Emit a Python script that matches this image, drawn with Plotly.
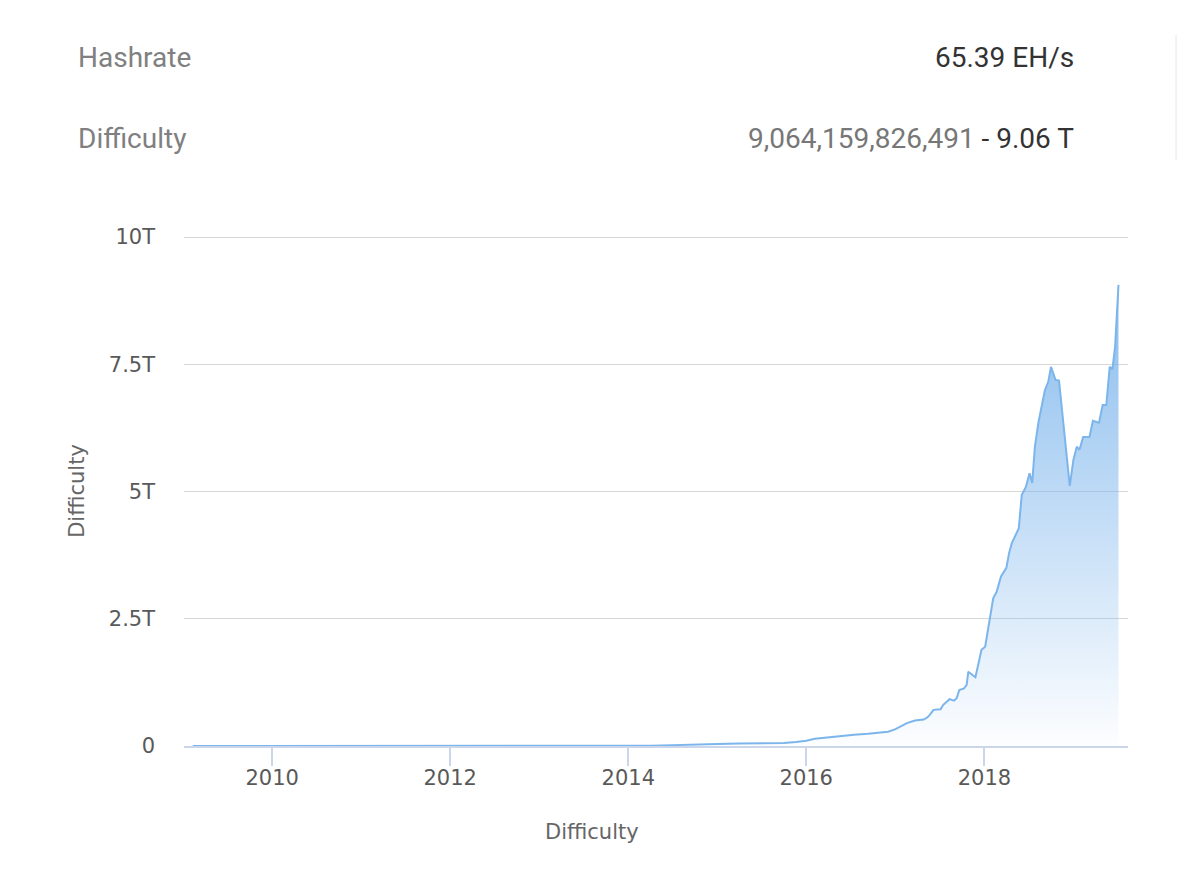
import plotly.graph_objects as go

# bitcoin network difficulty, values in T (10^12)
dates = [
    "2009-02-09", "2010-07-01", "2011-06-01", "2012-06-01", "2013-06-01",
    "2013-12-20", "2014-04-01", "2014-07-01", "2014-10-01", "2015-01-01",
    "2015-04-01", "2015-07-01", "2015-10-01", "2015-11-20", "2016-01-01",
    "2016-02-05", "2016-03-15", "2016-05-25", "2016-07-15", "2016-09-10",
    "2016-10-30", "2016-12-02", "2017-01-01", "2017-01-30", "2017-02-17",
    "2017-03-22", "2017-04-27", "2017-05-11", "2017-05-22", "2017-06-06",
    "2017-07-05", "2017-07-16", "2017-08-11", "2017-08-29", "2017-09-09",
    "2017-09-20", "2017-10-09", "2017-10-20", "2017-10-27", "2017-11-25",
    "2017-12-20", "2018-01-04", "2018-01-26", "2018-02-06", "2018-02-20",
    "2018-03-10", "2018-04-01", "2018-04-12", "2018-04-23", "2018-05-22",
    "2018-06-03", "2018-06-20", "2018-07-05", "2018-07-16", "2018-07-27",
    "2018-08-11", "2018-09-06", "2018-09-20", "2018-10-01", "2018-10-20",
    "2018-11-03", "2018-11-14", "2018-11-28", "2018-12-17", "2019-01-01",
    "2019-01-15", "2019-01-26", "2019-02-10", "2019-03-08", "2019-03-22",
    "2019-04-16", "2019-05-01", "2019-05-16", "2019-05-30", "2019-06-10",
    "2019-06-21", "2019-07-05",
]
difficulty = [
    0.0, 0.0, 0.000001, 0.0000017, 0.000015,
    0.0011, 0.006, 0.017, 0.035, 0.040,
    0.047, 0.049, 0.06, 0.08, 0.103,
    0.144, 0.165, 0.19, 0.22, 0.24,
    0.26, 0.28, 0.33, 0.41, 0.45,
    0.50, 0.52, 0.56, 0.61, 0.71,
    0.72, 0.81, 0.92, 0.89, 0.94,
    1.10, 1.13, 1.20, 1.46, 1.35,
    1.89, 1.95, 2.61, 2.90, 3.03,
    3.33, 3.50, 3.79, 3.98, 4.28,
    4.93, 5.09, 5.36, 5.17, 5.88,
    6.37, 6.99, 7.16, 7.45, 7.19,
    7.18, 6.67, 5.88, 5.11, 5.62,
    5.88, 5.82, 6.07, 6.07, 6.39,
    6.35, 6.70, 6.70, 7.45, 7.40,
    7.84, 9.06,
]
y_ticks = [0, 2.5, 5, 7.5, 10]
y_labels = ["0", "2.5T", "5T", "7.5T", "10T"]

label_font = dict(family="DejaVu Sans", size=21, color="#595959")
title_font = dict(family="DejaVu Sans", size=21, color="#666666")

trace = go.Scatter(
    x=dates,
    y=difficulty,
    mode="lines",
    line=dict(color="#7cb5ec", width=2),
    fill="tozeroy",
    fillgradient=dict(
        type="vertical",
        colorscale=[[0, "rgba(124,181,236,0.02)"], [1, "rgba(124,181,236,0.9)"]],
    ),
    hoverinfo="x+y",
)

fig = go.Figure([trace])

fig.update_layout(
    width=1180,
    height=896,
    margin=dict(l=184, r=52, t=236, b=150),
    paper_bgcolor="white",
    plot_bgcolor="white",
    showlegend=False,
    font=label_font,
)

fig.update_xaxes(
    range=["2009-01-04", "2019-08-13"],
    dtick="M24",
    tick0="2010-01-01",
    tickformat="%Y",
    showgrid=False,
    showline=True,
    linecolor="#ccd6eb",
    linewidth=2,
    ticks="outside",
    ticklen=18,
    tickwidth=2,
    tickcolor="#ccd6eb",
    tickfont=label_font,
    ticklabelstandoff=-6,
    zeroline=False,
)

fig.update_yaxes(
    range=[0, 10.02],
    tickvals=y_ticks,
    ticktext=y_labels,
    showgrid=True,
    gridcolor="#d6d6d6",
    gridwidth=1,
    showline=False,
    zeroline=False,
    ticks="",
    ticklabelstandoff=28,
    tickfont=label_font,
    title=dict(text="Difficulty", font=title_font, standoff=18),
)


def px_x(px):
    return (px - 184) / 944


def px_y(py):
    return (746 - py) / 510


# x axis title sits centred on the whole chart, not on the plot area
fig.add_annotation(x=px_x(592), y=px_y(832), xref="paper", yref="paper", text="Difficulty",
                   showarrow=False, xanchor="center", yanchor="middle", font=title_font)

head_font = dict(family="Roboto", size=28)
fig.add_annotation(x=px_x(76), y=px_y(58), xref="paper", yref="paper", text="Hashrate",
                   showarrow=False, xanchor="left", yanchor="middle", font=dict(head_font, color="#808080"))
fig.add_annotation(x=px_x(1076), y=px_y(58), xref="paper", yref="paper", text="65.39 EH/s",
                   showarrow=False, xanchor="right", yanchor="middle", font=dict(head_font, color="#333333"))
fig.add_annotation(x=px_x(76), y=px_y(138), xref="paper", yref="paper", text="Difficulty",
                   showarrow=False, xanchor="left", yanchor="middle", font=dict(head_font, color="#808080"))
fig.add_annotation(x=px_x(1076), y=px_y(138), xref="paper", yref="paper",
                   text="<span style='color:#777777'>9,064,159,826,491</span> - 9.06 T",
                   showarrow=False, xanchor="right", yanchor="middle", font=dict(head_font, color="#333333"))

# thin divider at the right of the header
fig.add_shape(type="line", xref="paper", yref="paper", x0=px_x(1176), x1=px_x(1176),
              y0=px_y(35), y1=px_y(160), line=dict(color="#e6e6e6", width=1))

fig.write_html("out.html", config={"displayModeBar": False},
               post_script="document.body.style.margin='0';")
